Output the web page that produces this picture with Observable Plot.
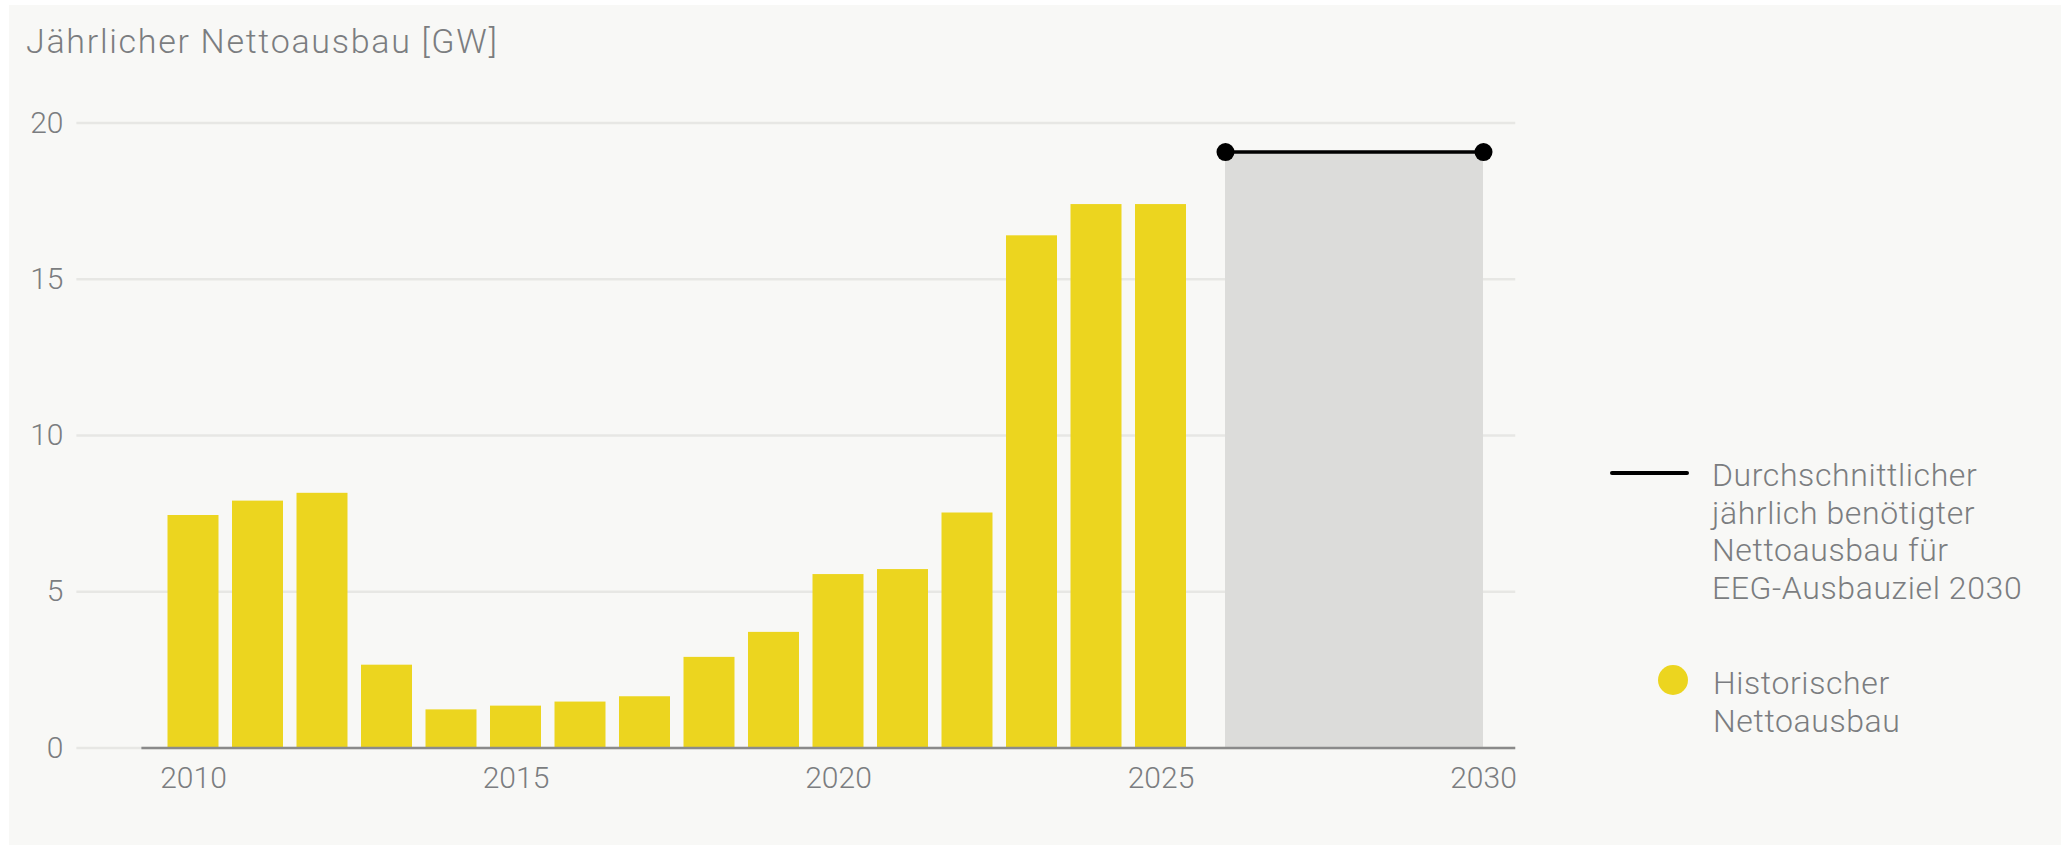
<!DOCTYPE html>
<html>
<head>
<meta charset="utf-8">
<script src="https://cdn.jsdelivr.net/npm/d3@7"></script>
<script src="https://cdn.jsdelivr.net/npm/@observablehq/plot@0.6"></script>
<style>
html, body { margin: 0; padding: 0; background: #ffffff; width: 2061px; height: 845px; overflow: hidden; }
#bg { position: absolute; left: 9px; top: 5px; width: 2052px; height: 840px; background: #f8f8f6; }
#title { position: absolute; left: 26px; top: 23.5px; font-family: Roboto, sans-serif; font-weight: 300; font-size: 34px; line-height: 34px; letter-spacing: 1.7px; color: #7b7d80; white-space: nowrap; }
#chart { position: absolute; left: 0; top: 80px; }
.lg-text { position: absolute; font-family: Roboto, sans-serif; font-weight: 300; font-size: 32px; line-height: 37.5px; letter-spacing: 0.6px; color: #7b7d80; white-space: nowrap; }
.lg-line { position: absolute; background: #000; height: 4px; border-radius: 2px; }
.lg-dot { position: absolute; border-radius: 50%; }
</style>
</head>
<body>
<div id="bg"></div>
<div id="title"></div>
<div id="chart"></div>
<div id="legend"></div>
<script>
// ---- data ----
const titleText = "Jährlicher Nettoausbau [GW]";
const years = [2010, 2011, 2012, 2013, 2014, 2015, 2016, 2017, 2018, 2019, 2020, 2021, 2022, 2023, 2024, 2025];
const values = [7.44, 7.9, 8.15, 2.65, 1.22, 1.34, 1.47, 1.64, 2.9, 3.7, 5.55, 5.71, 7.52, 16.39, 17.39, 17.39];
const targetYears = [2026, 2030];
const targetValue = 19.07;
const xTicks = [2010, 2015, 2020, 2025, 2030];
const yTicks = [0, 5, 10, 15, 20];
const legendTargetLines = ["Durchschnittlicher", "jährlich benötigter", "Nettoausbau für", "EEG-Ausbauziel 2030"];
const legendHistLines = ["Historischer", "Nettoausbau"];

const yellow = "#ecd51f";
const textColor = "#7b7d80";

document.getElementById("title").textContent = titleText;

const bars = years.map((y, i) => ({year: y, value: values[i]}));
const target = targetYears.map(y => ({year: y, value: targetValue}));
const targetSpan = [{start: targetYears[0], end: targetYears[1], value: targetValue}];

const chart = Plot.plot({
  width: 1580,
  height: 765,
  marginTop: 42.5,
  marginBottom: 97.5,
  marginLeft: 141.4,
  marginRight: 64.75,
  style: {background: "transparent", fontFamily: "Roboto, sans-serif", fontWeight: 300, fontSize: "30px", color: textColor},
  x: {domain: [2009.2, 2030.5], ticks: xTicks, tickFormat: d => String(d), tickSize: 0, tickPadding: 19, label: null},
  y: {domain: [0, 20], ticks: yTicks, tickSize: 0, tickPadding: 78.4, label: null},
  marks: [
    Plot.ruleY(yTicks, {stroke: "#e7e7e4", strokeWidth: 2.5, insetLeft: -65}),
    Plot.rectY(targetSpan, {x1: "start", x2: "end", y: "value", fill: "#dcdcda"}),
    Plot.rectY(bars, {x1: d => d.year - 0.5, x2: d => d.year + 0.5, y: "value", fill: yellow, insetLeft: 6.75, insetRight: 6.75}),
    Plot.ruleY([0], {stroke: "#8a8a8a", strokeWidth: 2.5}),
    Plot.line(target, {x: "year", y: "value", stroke: "#000", strokeWidth: 3.5}),
    Plot.dot(target, {x: "year", y: "value", r: 9, fill: "#000"})
  ]
});
document.getElementById("chart").appendChild(chart);

// ---- legend (HTML) ----
const legend = document.getElementById("legend");
const line = document.createElement("div");
line.className = "lg-line";
Object.assign(line.style, {left: "1610px", top: "471px", width: "79px"});
legend.appendChild(line);
const t1 = document.createElement("div");
t1.className = "lg-text";
t1.style.left = "1712px"; t1.style.top = "457px";
t1.innerHTML = legendTargetLines.join("<br>");
legend.appendChild(t1);
const dot = document.createElement("div");
dot.className = "lg-dot";
Object.assign(dot.style, {left: "1658px", top: "665px", width: "30px", height: "30px", background: yellow});
legend.appendChild(dot);
const t2 = document.createElement("div");
t2.className = "lg-text";
t2.style.left = "1713px"; t2.style.top = "665px";
t2.innerHTML = legendHistLines.join("<br>");
legend.appendChild(t2);
</script>
</body>
</html>
